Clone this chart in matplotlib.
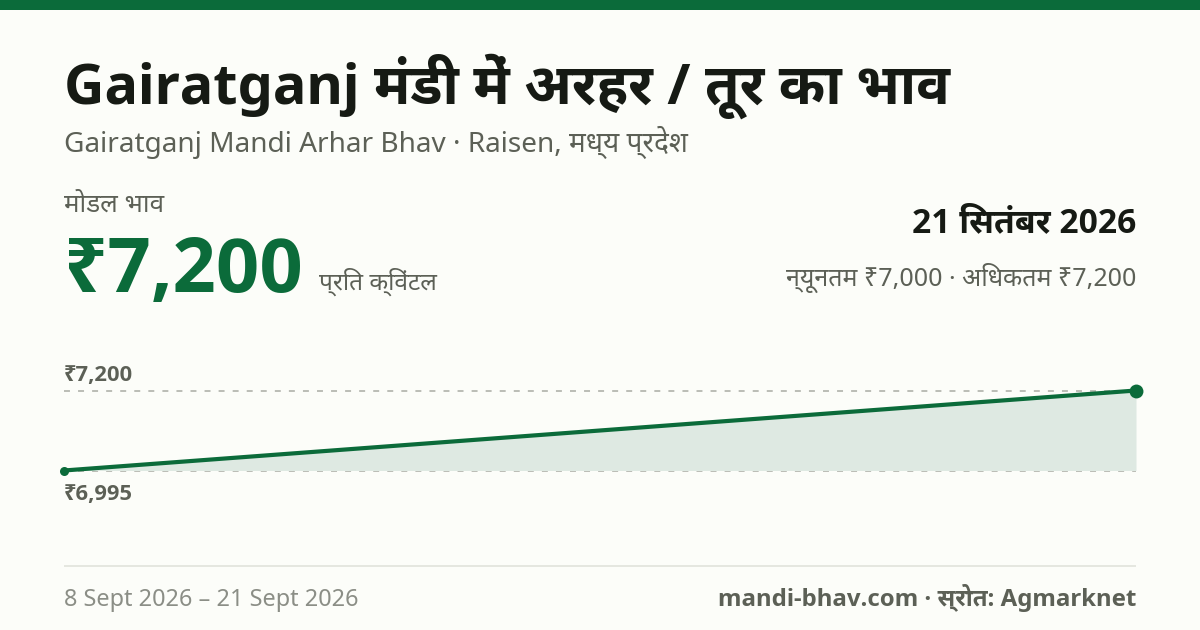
import os
import re
import tempfile
import datetime
import matplotlib
matplotlib.use("Agg")
import matplotlib.pyplot as plt
from matplotlib import font_manager as fm
from fontTools.ttLib import TTFont
from fontTools.varLib import instancer

dates = [datetime.date(2026, 9, 8), datetime.date(2026, 9, 21)]
prices = [6995, 7200]
price_labels = ["₹6,995", "₹7,200"]

title = "Gairatganj मंडी में अरहर / तूर का भाव"
subtitle = "Gairatganj Mandi Arhar Bhav · Raisen, मध्य प्रदेश"
modal_label = "मोडल भाव"
modal_price = "₹7,200"
unit = "प्रति क्विंटल"
date_label = "21 सितंबर 2026"
min_max = "न्यूनतम ₹7,000 · अधिकतम ₹7,200"
date_range = "8 Sept 2026 – 21 Sept 2026"
source = "mandi-bhav.com · स्रोत: Agmarknet"

BG = "#FCFDF9"
GREEN = "#0B6B3A"
DARK = "#161A14"
GREY = "#5C6056"
LIGHT = "#8B8E86"
W, H = 1200, 630

# Noto Sans is only installed as a variable font, matplotlib can't pick its bold, so cut one
BOLD_NAME = "Noto Sans Cut Bold"
var_font = TTFont(fm.findfont("Noto Sans"))
bold_font = instancer.instantiateVariableFont(var_font, {"wght": 700, "wdth": 100})
for rec in bold_font["name"].names:
    if rec.nameID in (1, 4, 16):
        rec.string = BOLD_NAME
bold_path = os.path.join(tempfile.mkdtemp(), "NotoSansCutBold.ttf")
bold_font.save(bold_path)
fm.fontManager.addfont(bold_path)

REGULAR = ["Noto Sans", "Noto Sans Devanagari UI", "DejaVu Sans"]
BOLD = [BOLD_NAME, "Noto Sans Devanagari UI", "DejaVu Sans"]


def visual(s):
    # matplotlib has no text shaping, so the short i has to come before its consonant
    return re.sub("([\u0915-\u0939])\u093f", "\u093f\\1", s)


def put(x, y, s, px, color, weight="normal", ha="left"):
    # x, y in pixels from the top left, y is the baseline
    fam = BOLD if weight == "bold" else REGULAR
    fig.text(x / W, 1 - y / H, visual(s), fontsize=px * 0.72, color=color,
             fontweight=weight, ha=ha, va="baseline", family=fam)


fig = plt.figure(figsize=(12, 6.3), dpi=100, facecolor=BG)

# top bar and footer rule
fig.add_artist(plt.Rectangle((0, 1 - 10 / H), 1, 10 / H, color=GREEN, lw=0))
fig.add_artist(plt.Rectangle((64 / W, 1 - 567 / H), 1072 / W, 2 / H, color="#E5E7E0", lw=0))

put(64, 104, title, 56, DARK, "bold")
put(64, 152, subtitle, 28, GREY)
put(64, 212, modal_label, 26, GREY)
put(64, 292, modal_price, 76, GREEN, "bold")
put(319, 290, unit, 24.5, GREY)
put(1136, 232, date_label, 33.7, DARK, "bold", ha="right")
put(1136, 286, min_max, 25, GREY, ha="right")
put(64, 381, price_labels[1], 22, GREY, "bold")
put(64, 500, price_labels[0], 22, GREY, "bold")
put(64, 606, date_range, 23.5, LIGHT)
put(1136, 606, source, 24, GREY, "bold", ha="right")

# chart area: 7200 sits at y=390.5 and 6995 at y=470.5
ax = fig.add_axes([64 / W, 1 - 470.5 / H, 1072 / W, 80 / H])
ax.set_xlim(dates[0], dates[1])
ax.set_ylim(prices[0], prices[1])
ax.axis("off")
ax.patch.set_alpha(0)

for p in prices:
    ax.axhline(p, color="#A9ABA4", lw=1.1, dashes=(3.9, 5.3), clip_on=False, zorder=1)
ax.fill_between(dates, prices, prices[0], color="#DEE9E2", lw=0, zorder=2)
ax.plot(dates, prices, color=GREEN, lw=3.0, solid_capstyle="round", clip_on=False, zorder=3)
ax.plot(dates[0], prices[0], "o", color=GREEN, ms=6.5, mew=0, clip_on=False, zorder=4)
ax.plot(dates[1], prices[1], "o", color=GREEN, ms=10, mew=0, clip_on=False, zorder=4)

plt.savefig("out.png", dpi=100, facecolor=BG)
